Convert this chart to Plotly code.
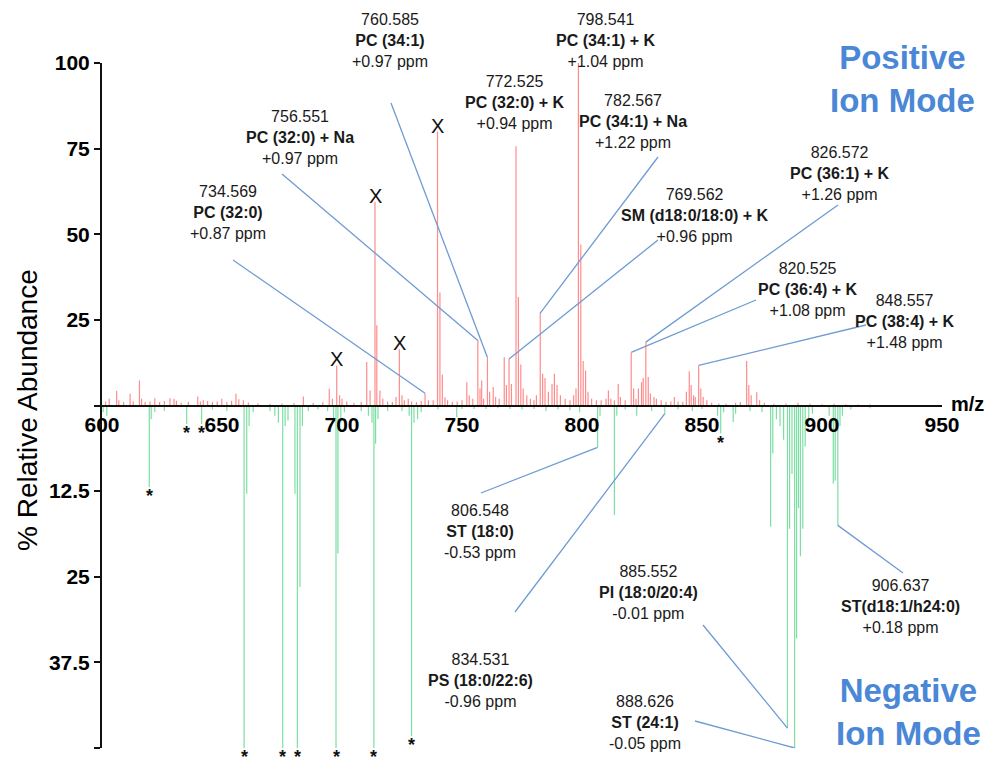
import plotly.graph_objects as go

# ---------------- data ----------------
pos_mz = [601.5, 603, 606.1, 607, 609, 611.7, 613, 615.6, 616.5, 618, 620, 622, 624, 626, 628.3, 630, 631, 633, 636,
          639.9, 641, 642.2, 644, 646, 648, 649.9, 652, 654, 655.8, 657, 658.9, 661, 665, 670, 675, 680, 683.9, 688,
          692, 694.7, 696, 697.8, 699, 700, 702, 705, 708, 710.3, 711.7, 713.75, 714.5, 715.8, 717, 719, 721, 722.5,
          723.9, 725, 726, 727.6, 729, 731, 733, 734.6, 736, 738, 739.8, 740.8, 741.8, 742.9, 744, 746, 748, 750,
          752, 753, 754.5, 756.6, 757.5, 758.2, 759, 760.6, 761.5, 763, 764, 765.5, 767.6, 768.5, 769.6, 770.6,
          772.5, 773.5, 774.5, 775.5, 777, 778.5, 780, 781, 782.6, 783.6, 784.6, 786, 787.5, 788.5, 789.6, 791, 793,
          795, 796.5, 797.5, 798.5, 799.5, 800.5, 801.5, 802.5, 804, 806, 808, 810, 811, 812, 813.5, 815.1, 816, 818,
          820.5, 821.5, 822.5, 823.5, 824.8, 825.5, 826.6, 827.6, 828.5, 830, 831, 833, 835, 837, 838.5, 840, 842,
          843.5, 844.7, 845.5, 846.5, 847.2, 848.6, 849.5, 850.5, 852, 854, 857, 860, 864, 866, 868.6, 869.5, 870.5,
          872.8, 874, 876, 880, 885, 890, 895, 900, 905, 910, 915, 920]
pos_val = [1.2, 2.0, 4.2, 1.5, 1.0, 3.4, 1.2, 7.3, 2.0, 1.0, 1.2, 2.1, 1.0, 1.3, 2.1, 2.0, 1.4, 0.8, 1.0,
           2.6, 1.2, 1.5, 1.3, 1.0, 1.2, 2.0, 1.0, 1.4, 3.4, 1.8, 1.5, 0.8, 0.6, 0.5, 0.6, 0.7, 2.6, 0.7,
           1.0, 4.9, 2.0, 11.7, 3.0, 2.0, 1.2, 0.8, 1.0, 12.7, 4.4, 59.5, 23.4, 4.4, 2.0, 1.2, 1.0, 2.5,
           16.4, 3.0, 1.5, 2.0, 1.2, 1.0, 1.3, 3.6, 1.5, 1.5, 80.0, 33.0, 9.0, 2.4, 1.5, 1.0, 1.2, 1.5,
           6.8, 3.0, 2.0, 19.0, 5.0, 7.3, 2.0, 14.0, 4.0, 5.4, 2.5, 2.0, 14.1, 6.0, 13.6, 6.3,
           75.7, 31.7, 12.0, 5.0, 3.0, 2.0, 1.5, 3.0, 27.0, 9.3, 8.0, 4.0, 6.3, 9.3, 6.0, 3.0, 2.0,
           1.5, 3.0, 5.0, 100.0, 47.0, 13.0, 10.2, 4.0, 2.0, 1.5, 1.5, 2.0, 4.4, 2.0, 1.5, 6.3, 2.5, 1.5,
           15.5, 5.0, 2.0, 5.0, 6.8, 8.0, 18.5, 8.3, 3.5, 2.5, 2.0, 1.5, 1.0, 1.2, 2.5, 1.2, 1.0,
           4.0, 10.0, 6.0, 3.0, 2.5, 11.7, 5.0, 2.5, 1.5, 0.8, 0.6, 0.5, 0.8, 1.0, 13.0, 6.0, 3.0,
           3.9, 1.5, 0.8, 0.5, 0.6, 0.8, 0.6, 0.4, 0.5, 0.4, 0.3, 0.3]

neg_mz = [600.5, 602, 619.7, 620.5, 622, 626, 635.3, 641.5, 646, 652, 659.2, 660.3, 661.3, 663, 670, 672, 673.5,
          675.3, 676.3, 677.5, 680.4, 681.4, 682.5, 683.5, 686, 690, 694, 696.5, 697.5, 698.3, 699.5, 701, 708,
          711, 712.5, 713.3, 714, 715, 719, 725, 728, 729, 730, 731.5, 733, 740, 747.8, 750, 755, 760, 765, 770,
          775, 780, 785, 790, 795, 799, 806.5, 807.5, 813.5, 814.5, 818, 822.8, 829, 834.5, 840, 846, 850, 856.5,
          857.8, 859, 863, 864, 870, 875, 878.6, 879.5, 881, 882.5, 884, 885.6, 886.5, 887.5, 888.6, 889.4, 890.2,
          891, 892, 893, 894.5, 896, 903, 904.7, 905.5, 906.6, 907.5, 908.5, 912, 920]
neg_val = [1.0, 1.5, 11.9, 2.0, 1.0, 0.8, 2.7, 2.7, 0.6, 0.8, 50.0, 12.9, 3.0, 1.0, 0.8, 1.5, 2.5,
           50.0, 3.0, 2.2, 12.9, 50.0, 26.5, 3.0, 0.8, 0.6, 0.8, 2.0, 50.0, 21.6, 2.5, 1.0, 0.8,
           1.5, 2.5, 50.0, 5.6, 2.0, 0.8, 0.8, 1.5, 48.3, 2.5, 2.0, 1.0, 0.6, 1.7, 0.5, 0.5, 0.5, 0.4, 0.5,
           0.6, 0.5, 0.8, 0.6, 0.7, 1.0, 6.1, 1.5, 16.0, 1.5, 0.6, 1.5, 0.8, 1.2, 0.6, 0.8, 0.5, 1.5,
           4.1, 1.0, 2.4, 1.2, 0.8, 1.0, 17.7, 7.0, 2.0, 3.0, 5.0, 47.1, 18.0, 10.0, 50.0, 34.0, 15.0,
           22.0, 18.0, 6.0, 2.5, 1.2, 1.5, 11.4, 11.0, 17.5, 3.0, 1.5, 0.6, 0.4]

x_ticks = [600, 650, 700, 750, 800, 850, 900, 950]
pos_ticks = [100, 75, 50, 25]
neg_ticks = [12.5, 25, 37.5, 50]

pos_label_mass = ["734.569", "756.551", "760.585", "772.525", "798.541", "782.567", "769.562", "826.572", "820.525", "848.557"]
pos_label_name = ["PC (32:0)", "PC (32:0) + Na", "PC (34:1)", "PC (32:0) + K", "PC (34:1) + K", "PC (34:1) + Na",
                  "SM (d18:0/18:0) + K", "PC (36:1) + K", "PC (36:4) + K", "PC (38:4) + K"]
pos_label_ppm = ["+0.87 ppm", "+0.97 ppm", "+0.97 ppm", "+0.94 ppm", "+1.04 ppm", "+1.22 ppm", "+0.96 ppm",
                 "+1.26 ppm", "+1.08 ppm", "+1.48 ppm"]
neg_label_mass = ["806.548", "834.531", "885.552", "888.626", "906.637"]
neg_label_name = ["ST (18:0)", "PS (18:0/22:6)", "PI (18:0/20:4)", "ST (24:1)", "ST(d18:1/h24:0)"]
neg_label_ppm = ["-0.53 ppm", "-0.96 ppm", "-0.01 ppm", "-0.05 ppm", "+0.18 ppm"]

x_marked = [697.8, 713.75, 723.9, 739.8]
star_marked = [619.7, 635.3, 641.5, 659.2, 675.3, 681.4, 697.5, 713.3, 729, 857.8]

NEG_SCALE = 2.0  # negative half: 50 % spans the same height as 100 % above

# ---------------- layout geometry (window pixels) ----------------
OFF = 8                      # default page body margin
WIN_W, WIN_H = 995, 758
PX_L, PX_R, PX_T, PX_B = 102, 942, 63, 748   # plot area in window pixels
W, H = WIN_W - OFF, WIN_H - OFF
ML, MT = PX_L - OFF, PX_T - OFF
MR, MB = W - (PX_R - OFF), H - (PX_B - OFF)
PW, PH = PX_R - PX_L, PX_B - PX_T


def px_paper(px, py):
    return (px - PX_L) / PW, (PX_B - py) / PH


def px_data(px, py):
    fx, fy = px_paper(px, py)
    return 600 + fx * 350, -100 + fy * 200


# label block centers (pixels) and leader starts (pixels, or None)
pos_label_pos = [(228, 213), (300, 137), (390, 40), (515, 102), (606, 40), (633, 121), (695, 216), (840, 173),
                 (808, 289), (905, 321)]
pos_leader = [(233, 260), (282, 174), (391, 103), None, None, (658, 157), (658, 240), (838, 205), (756, 300),
              (866, 325)]
neg_label_pos = [(480, 531), (480, 680), (648, 592), (645, 722), (900, 606)]
neg_leader = [(481, 493), (515, 612), (703, 625), (695, 721), (903, 573)]

FONT = "Liberation Sans, Arial, sans-serif"
TXT = "#1a1a1a"
LEAD = "#6f9bd3"
BLUE = "#4a87d6"


def sticks(mz, vals, sign):
    xs, ys = [], []
    for m, v in zip(mz, vals):
        xs += [m, m, None]
        ys += [0, sign * v, None]
    return xs, ys


def peak_top(m, mzs, vals, sign):
    i = min(range(len(mzs)), key=lambda k: abs(mzs[k] - m))
    return mzs[i], sign * vals[i]


fig = go.Figure()
xp, yp = sticks(pos_mz, pos_val, 1)
fig.add_trace(go.Scatter(x=xp, y=yp, mode="lines", line=dict(color="#ff8c8c", width=1.2),
                         hoverinfo="skip", showlegend=False))
xn, yn = sticks(neg_mz, neg_val, -NEG_SCALE)
fig.add_trace(go.Scatter(x=xn, y=yn, mode="lines", line=dict(color="#7ddfa4", width=1.2),
                         hoverinfo="skip", showlegend=False))

annotations = []
shapes = []


def add_label(mass, name, ppm, pos, lead, mzs, vals, sign):
    fx, fy = px_paper(*pos)
    annotations.append(dict(x=fx, y=fy, xref="paper", yref="paper", showarrow=False,
                            text=f"{mass}<br><b>{name}</b><br>{ppm}", align="center",
                            xanchor="center", yanchor="middle",
                            font=dict(family=FONT, size=16, color=TXT)))
    if lead is not None:
        x0, y0 = px_data(*lead)
        x1, y1 = peak_top(float(mass), mzs, vals, sign)
        shapes.append(dict(type="line", xref="x", yref="y", x0=x0, y0=y0, x1=x1, y1=y1,
                           line=dict(color=LEAD, width=1.3)))


for i in range(len(pos_label_mass)):
    add_label(pos_label_mass[i], pos_label_name[i], pos_label_ppm[i], pos_label_pos[i], pos_leader[i],
              pos_mz, pos_val, 1)
for i in range(len(neg_label_mass)):
    add_label(neg_label_mass[i], neg_label_name[i], neg_label_ppm[i], neg_label_pos[i], neg_leader[i],
              neg_mz, neg_val, -NEG_SCALE)

for m in x_marked:
    x1, y1 = peak_top(m, pos_mz, pos_val, 1)
    annotations.append(dict(x=x1, y=y1, xref="x", yref="y", text="X", showarrow=False,
                            xanchor="center", yanchor="bottom", yshift=-7,
                            font=dict(family=FONT, size=20, color="#111")))
for m in star_marked:
    x1, y1 = peak_top(m, neg_mz, neg_val, -NEG_SCALE)
    annotations.append(dict(x=x1, y=y1, xref="x", yref="y", text="<b>*</b>", showarrow=False,
                            xanchor="center", yanchor="top", yshift=3,
                            font=dict(family=FONT, size=18, color="#111")))

# mode titles
for txt, pos in [("Positive<br>Ion Mode", (902, 79)), ("Negative<br>Ion Mode", (908, 712))]:
    fx, fy = px_paper(*pos)
    annotations.append(dict(x=fx, y=fy, xref="paper", yref="paper", showarrow=False, text=f"<b>{txt}</b>",
                            xanchor="center", yanchor="middle", align="center",
                            font=dict(family=FONT, size=33, color=BLUE)))

fx, fy = px_paper(968, 404)
annotations.append(dict(x=fx, y=fy, xref="paper", yref="paper", showarrow=False, text="<b>m/z</b>",
                        xanchor="center", yanchor="middle", font=dict(family=FONT, size=20, color="#000")))
fx, fy = px_paper(27, 410)
annotations.append(dict(x=fx, y=fy, xref="paper", yref="paper", showarrow=False, text="% Relative Abundance",
                        textangle=-90, xanchor="center", yanchor="middle",
                        font=dict(family=FONT, size=28, color="#000")))

ytickvals = pos_ticks + [0] + [-NEG_SCALE * v for v in neg_ticks]
yticktext = [str(v) for v in pos_ticks] + [""] + [f"{v:g}" for v in neg_ticks]

fig.update_layout(
    width=W, height=H, margin=dict(l=ML, r=MR, t=MT, b=MB),
    paper_bgcolor="white", plot_bgcolor="white",
    showlegend=False,
    xaxis=dict(range=[600, 950], tickvals=x_ticks, ticktext=[str(v) for v in x_ticks],
               anchor="free", position=0.5, showline=True, linecolor="#111", linewidth=2,
               ticks="", showgrid=False, zeroline=False,
               tickfont=dict(family=FONT, size=21, color="#000", weight="bold")),
    yaxis=dict(range=[-100, 100], tickvals=ytickvals, ticktext=yticktext, showline=True,
               linecolor="#111", linewidth=2, ticks="outside", ticklen=6, tickwidth=2, tickcolor="#111",
               showgrid=False, zeroline=False,
               tickfont=dict(family=FONT, size=21, color="#000", weight="bold")),
    annotations=annotations, shapes=shapes,
)

fig.write_html("out.html", post_script="document.body.style.overflow='hidden';")
